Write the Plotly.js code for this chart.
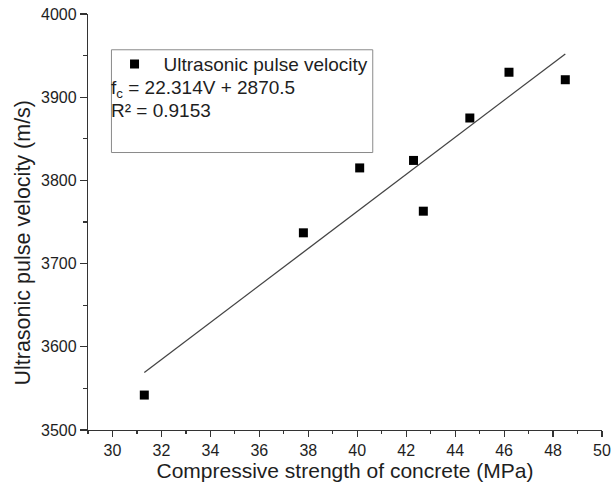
<!DOCTYPE html>
<html>
<head>
<meta charset="utf-8">
<script src="https://cdn.plot.ly/plotly-3.0.1.min.js"></script>
<style>
  html, body { margin: 0; padding: 0; background: #fff; }
  #chart { width: 612px; height: 497px; }
</style>
</head>
<body>
<div id="chart"></div>
<script>
// Data
const strength = [31.3, 37.8, 40.1, 42.3, 42.7, 44.6, 46.2, 48.5];   // MPa
const velocity = [3542, 3737, 3815, 3824, 3763, 3875, 3930, 3921];   // m/s
const seriesName = 'Ultrasonic pulse velocity';
// Linear fit shown in the chart
const fitX = [31.3, 48.5];
const fitY = [3569, 3952];
const fitEquation = 'f<sub>c</sub> = 22.314V + 2870.5';
const fitR2 = 'R² = 0.9153';
const xTicks = [30, 32, 34, 36, 38, 40, 42, 44, 46, 48, 50];
const yTicks = [3500, 3600, 3700, 3800, 3900, 4000];
const xTitle = 'Compressive strength of concrete (MPa)';
const yTitle = 'Ultrasonic pulse velocity (m/s)';

const FONT = 'Liberation Sans, Arial, Helvetica, sans-serif';
const TXT = '#1e1e1e';

const traces = [
  {
    x: strength, y: velocity, type: 'scatter', mode: 'markers', name: seriesName,
    marker: { symbol: 'square', size: 9, color: '#000' },
    showlegend: true
  },
  {
    x: fitX, y: fitY, type: 'scatter', mode: 'lines',
    line: { color: '#444', width: 1.3 }, showlegend: false, hoverinfo: 'skip'
  }
];

const layout = {
  width: 612, height: 497,
  margin: { l: 87.5, r: 9.5, t: 14.3, b: 66.7 },
  paper_bgcolor: '#fff', plot_bgcolor: '#fff',
  font: { family: FONT, color: TXT, size: 16 },
  showlegend: true,
  legend: {
    x: 0.0341, y: 0.925, xanchor: 'left', yanchor: 'top',
    bgcolor: 'rgba(0,0,0,0)', borderwidth: 0,
    font: { family: FONT, size: 19, color: TXT },
    itemwidth: 48
  },
  xaxis: {
    range: [29, 50], tickvals: xTicks, ticktext: xTicks.map(String),
    showgrid: false, zeroline: false, showline: true, linecolor: '#333', linewidth: 1.2,
    ticks: 'outside', ticklen: 6, tickwidth: 1.2, tickcolor: '#333',
    minor: { ticks: 'outside', ticklen: 3, tickwidth: 1.2, tickcolor: '#333', dtick: 1, tick0: 29, showgrid: false },
    tickfont: { family: FONT, size: 16, color: TXT },
    title: { text: xTitle, font: { family: FONT, size: 21, color: TXT }, standoff: 2 },
    automargin: false
  },
  yaxis: {
    range: [3500, 4000], tickvals: yTicks, ticktext: yTicks.map(String),
    showgrid: false, zeroline: false, showline: true, linecolor: '#333', linewidth: 1.2,
    ticks: 'outside', ticklen: 7, tickwidth: 1.2, tickcolor: '#333',
    minor: { ticks: 'outside', ticklen: 4, tickwidth: 1.2, tickcolor: '#333', dtick: 50, tick0: 3500, showgrid: false },
    tickfont: { family: FONT, size: 16, color: TXT },
    automargin: false
  },
  shapes: [
    { type: 'rect', xref: 'paper', yref: 'paper', x0: 0.0456, x1: 0.554, y0: 0.667, y1: 0.914,
      line: { color: '#8a8a8a', width: 1 }, fillcolor: 'rgba(0,0,0,0)' }
  ],
  annotations: [
    { xref: 'paper', yref: 'paper', x: 0.04, y: 0.82, xanchor: 'left', yanchor: 'middle',
      text: fitEquation, showarrow: false, font: { family: FONT, size: 19, color: TXT } },
    { xref: 'paper', yref: 'paper', x: 0.04, y: 0.768, xanchor: 'left', yanchor: 'middle',
      text: fitR2, showarrow: false, font: { family: FONT, size: 19, color: TXT } },
    { xref: 'paper', yref: 'paper', x: -0.127, y: 0.45, xanchor: 'center', yanchor: 'middle',
      text: yTitle, textangle: -90, showarrow: false, font: { family: FONT, size: 21.5, color: TXT } }
  ]
};

Plotly.newPlot('chart', traces, layout, { displayModeBar: false, staticPlot: true });
</script>
</body>
</html>
